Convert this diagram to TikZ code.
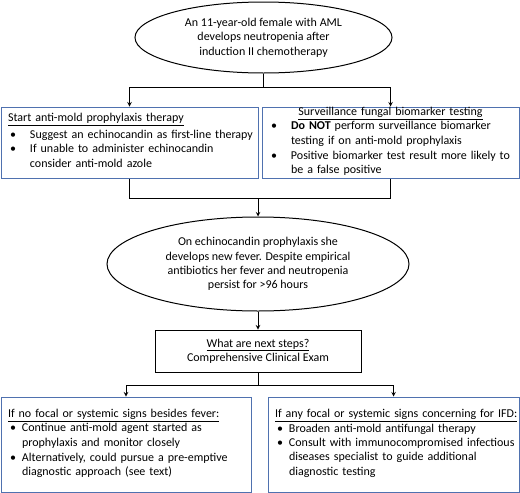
\documentclass[tikz,border=0pt]{standalone}
\usepackage{fontspec}
\setmainfont{Carlito}
\usetikzlibrary{shapes.geometric, arrows.meta, positioning}
\definecolor{boxblue}{RGB}{79,113,175}
% bullet item, lines broken by hand
\newcommand{\bitem}[2]{\par\noindent\makebox[#1][l]{\hspace{4pt}\textbullet}\begin{tabular}[t]{@{}l@{}}#2\end{tabular}\par}

\begin{document}
\begin{tikzpicture}[x=1pt, y=-1pt, >=stealth, line width=1pt,
    font=\fontsize{12}{14.3}\selectfont,
    oval/.style={draw, ellipse, inner sep=0pt, align=center},
    bluebox/.style={draw=boxblue, rectangle, inner xsep=5pt, inner ysep=0pt, align=left}]
    \useasboundingbox (0,0) rectangle (520,493);

    % start
    \node[oval, minimum width=257, minimum height=71] (e1) at (263.5,37.5) {
        An 11-year-old female with AML \\
        develops neutropenia after \\
        induction II chemotherapy
    };

    % prophylaxis
    \node[bluebox, text width=247, minimum height=71] (s1) at (129.5,142.5) {
        \hspace*{2pt}\underline{Start anti-mold prophylaxis therapy}\par\vspace{2.5pt}
        \bitem{24pt}{Suggest an echinocandin as first-line therapy}
        \bitem{24pt}{If unable to administer echinocandin \\ consider anti-mold azole}
    };

    % biomarker
    \node[bluebox, text width=247, minimum height=71] (s2) at (390.5,142.5) {
        {\centering\underline{Surveillance fungal biomarker testing}\par}
        \bitem{24pt}{\textbf{Do NOT} perform surveillance biomarker \\ testing if on anti-mold prophylaxis}
        \bitem{24pt}{Positive biomarker test result more likely to \\ be a false positive}
    };

    % fever
    \node[oval, minimum width=302, minimum height=94] (e2) at (258,264) {
        On echinocandin prophylaxis she \\
        develops new fever. Despite empirical \\
        antibiotics her fever and neutropenia \\
        persist for >96 hours
    };

    % next steps
    \node[draw, rectangle, minimum width=206, minimum height=42, align=center, inner sep=0pt] (q) at (258,351) {
        \underline{What are next steps?} \\
        Comprehensive Clinical Exam
    };

    % no signs
    \node[bluebox, text width=240, minimum height=95] (b4) at (126,444.5) {
        \hspace*{2pt}\underline{If no focal or systemic signs besides fever:}\par
        \bitem{16pt}{Continue anti-mold agent started as \\ prophylaxis and monitor closely}
        \bitem{16pt}{Alternatively, could pursue a pre-emptive \\ diagnostic approach (see text)}
    };

    % signs of IFD
    \node[bluebox, text width=241, minimum height=95] (b5) at (393.5,444.5) {
        \hspace*{2pt}\underline{If any focal or systemic signs concerning for IFD:}\par
        \bitem{16pt}{Broaden anti-mold antifungal therapy}
        \bitem{16pt}{Consult with immunocompromised infectious \\ diseases specialist to guide additional \\ diagnostic testing}
    };

    % connectors
    \coordinate (j1) at (263.5,87);
    \coordinate (j2) at (258,198);
    \coordinate (j3) at (258,385);
    \draw (e1.south) -- (j1);
    \draw[->] (j1) -| (s1.north);
    \draw[->] (j1) -| (s2.north);
    \draw (s1.south) |- (j2);
    \draw (s2.south) |- (j2);
    \draw[->] (j2) -- (e2.north);
    \draw[->] (e2.south) -- (q.north);
    \draw (q.south) -- (j3);
    \draw[->] (j3) -| (b4.north);
    \draw[->] (j3) -| (b5.north);
\end{tikzpicture}
\end{document}
